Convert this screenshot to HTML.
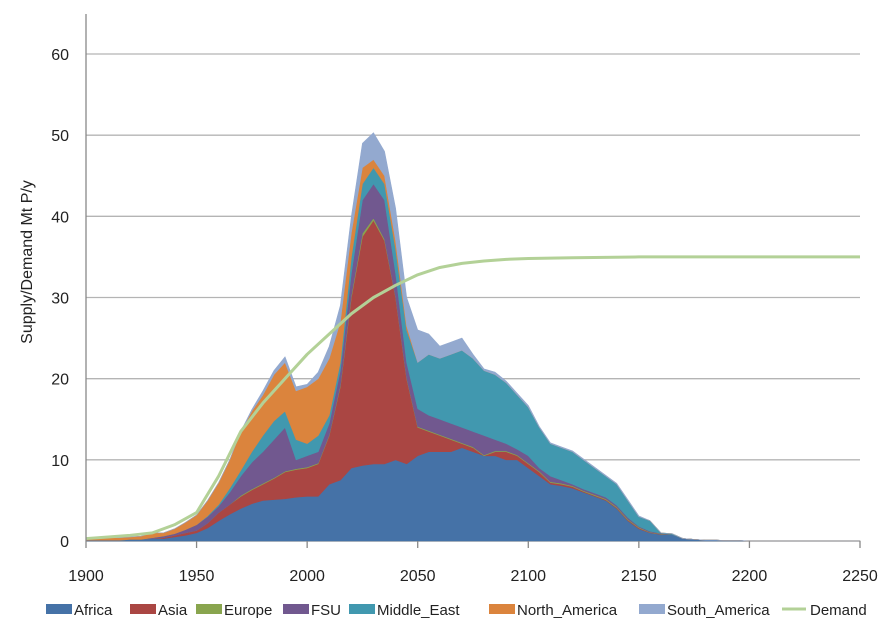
<!DOCTYPE html>
<html><head><meta charset="utf-8"><style>
body{margin:0;background:#fff;width:890px;height:630px;overflow:hidden;font-family:"Liberation Sans",sans-serif}
svg text{font-family:"Liberation Sans",sans-serif;fill:#222}
</style></head><body>
<svg id="chart" width="890" height="630" xmlns="http://www.w3.org/2000/svg">
<g id="grid"></g><g id="areas"></g><g id="lines"></g><g id="axes"></g><g id="legend"></g>
</svg>
<script>
const years=[1900,1905,1910,1915,1920,1925,1930,1935,1940,1945,1950,1955,1960,1965,1970,1975,1980,1985,1990,1995,2000,2005,2010,2015,2020,2025,2030,2035,2040,2045,2050,2055,2060,2065,2070,2075,2080,2085,2090,2095,2100,2105,2110,2115,2120,2125,2130,2135,2140,2145,2150,2155,2160,2165,2170,2175,2180,2185,2190,2195,2200,2250];
const africa=[.1,.1,.1,.1,.2,.2,.3,.3,.5,.7,1,1.6,2.5,3.3,4,4.6,5,5.1,5.2,5.4,5.5,5.5,7,7.5,9,9.3,9.5,9.5,10,9.5,10.5,11,11,11,11.5,11,10.5,10.5,10,10,9,8,7,6.8,6.5,6,5.5,5,4,2.5,1.5,1,.8,.8,.3,.2,.1,.1,.05,.05,0,0];
const asia=[0,0,0,0,0,0,0,.1,.2,.3,.3,.6,1,1.2,1.5,1.7,2,2.6,3.3,3.4,3.5,4,6,11.5,21,28.2,30,27.5,20,10.5,3.5,2.5,2,1.5,.5,.5,0,.5,1,.5,.5,.5,.2,.2,.2,.1,.1,.1,.1,.1,.1,.05,.05,0,0,0,0,0,0,0,0,0];
const europe=[0,0,0,0,0,0,0,0,0,0,0,0,0,0,.1,.1,.1,.1,.1,.1,.1,.1,.1,.2,.3,.4,.3,.2,.1,.1,.1,.1,.1,.1,.1,.1,.1,.1,.1,.1,.1,.1,.1,.1,.1,.1,.1,.1,.1,.1,.1,.05,.05,0,0,0,0,0,0,0,0,0];
const fsu=[0,0,0,0,0,0,.1,.2,.2,.4,.7,.8,.8,1.5,2.4,3.3,3.9,4.7,5.4,1.1,1.4,1.4,1.4,1.8,2.7,4.1,4.2,4.8,2.9,1.9,2.2,1.9,1.9,1.9,1.9,1.9,2.4,1.4,.9,.7,.9,.4,.7,.4,.2,.2,.2,.2,.2,.2,.1,.1,.05,0,0,0,0,0,0,0,0,0];
const middleEast=[0,0,0,0,0,0,0,0,0,0,0,.1,.2,.5,.7,1.3,2,2.3,2,2.5,1.5,2,1,1,2,2,2,2,3,4,5.7,7.5,7.5,8.5,9.5,9,8,8,7.5,6.7,6,5,4,4,4,3.6,3.1,2.6,2.6,2.1,1.2,1.3,.05,.1,0,0,0,0,0,0,0,0];
const northAmerica=[.1,.2,.3,.3,.3,.4,.6,.4,.6,.9,1.2,1.9,2.7,3.5,4.8,5,5,5.7,6,6,7,7,7,5,3,2,1,1,1,.5,0,0,0,0,0,0,0,0,0,0,0,0,0,0,0,0,0,0,0,0,0,0,0,0,0,0,0,0,0,0,0,0];
const southAmerica=[0,0,0,0,0,0,0,0,0,0,0,0,0,0,0,.2,.5,.5,.7,.5,.3,.8,1.5,2,2,3,3.3,3,4,3.5,4,2.5,1.5,1.5,1.5,.5,.2,.3,.2,.2,.2,.1,.1,.1,.1,.1,.1,.1,.1,.1,.1,0,0,0,0,0,0,0,0,0,0,0];
const demandYears=[1900,1910,1920,1930,1940,1950,1960,1970,1980,1990,2000,2010,2020,2030,2040,2050,2060,2070,2080,2090,2100,2120,2150,2250];
const demand=[0.3,0.5,0.7,1,2,3.5,8,13.5,17,20,23,25.5,28,30,31.5,32.8,33.7,34.2,34.5,34.7,34.8,34.9,35,35];
const xTicks=[1900,1950,2000,2050,2100,2150,2200,2250];
const yTicks=[0,10,20,30,40,50,60];
const seriesNames=["Africa","Asia","Europe","FSU","Middle_East","North_America","South_America"];
const seriesData=[africa,asia,europe,fsu,middleEast,northAmerica,southAmerica];
const colors=["#4572a7","#aa4643","#89a54e","#71588f","#4198af","#db843d","#93a9cf"];
const demandColor="#b3d197";
const NS="http://www.w3.org/2000/svg";
const L=86,R=860,B=541,T=54;
const x=v=>L+(v-1900)/350*(R-L);
const y=v=>B-v/60*(B-T);
function mk(tag,attrs,parent){const e=document.createElementNS(NS,tag);for(const k in attrs)e.setAttribute(k,attrs[k]);document.getElementById(parent).appendChild(e);return e;}
yTicks.forEach(t=>{
  const ln=mk('line',{x1:L,x2:R,y1:y(t),y2:y(t),stroke:t===0?'#888':'#b4b4b4','stroke-width':1.3},'grid');
  
  
  const tx=mk('text',{x:69,y:y(t)+6,'text-anchor':'end','font-size':16},'axes');tx.textContent=t;
  
  
});
const ax=mk('line',{x1:L,x2:L,y1:14,y2:B,stroke:'#888','stroke-width':1.3},'axes');


xTicks.forEach(t=>{
  const tk=mk('line',{x1:x(t),x2:x(t),y1:B,y2:B+7,stroke:'#888','stroke-width':1.3},'axes');
  
  
  const tx=mk('text',{x:x(t),y:581,'text-anchor':'middle','font-size':16},'axes');tx.textContent=t;
  
  
});
const yt=mk('text',{x:0,y:0,'text-anchor':'middle','font-size':16,transform:'translate(32,262) rotate(-90)'},'axes');
yt.textContent='Supply/Demand Mt P/y';


let base=years.map(()=>0);
seriesData.forEach((s,i)=>{
  const top=base.map((b,j)=>b+s[j]);
  let d='M'+years.map((yr,j)=>x(yr)+','+y(top[j])).join(' L');
  for(let j=years.length-1;j>=0;j--)d+=' L'+x(years[j])+','+y(base[j]);
  const p=mk('path',{d:d+'Z',fill:colors[i],stroke:colors[i],'stroke-width':0.6,'stroke-linejoin':'round'},'areas');
  
  
  base=top;
});
const dl=mk('polyline',{points:demandYears.map((yr,j)=>x(yr)+','+y(demand[j])).join(' '),fill:'none',stroke:demandColor,'stroke-width':3,'stroke-linejoin':'round'},'lines');


const legX=[46,130,196,283,349,489,639,782];
seriesNames.concat(['Demand']).forEach((n,i)=>{
  const g=mk('g',{},'legend');
  
  
  const lx=legX[i];
  if(i<7){const r=document.createElementNS(NS,'rect');r.setAttribute('x',lx);r.setAttribute('y',604);r.setAttribute('width',26);r.setAttribute('height',10);r.setAttribute('fill',colors[i]);g.appendChild(r);}
  else{const l=document.createElementNS(NS,'line');l.setAttribute('x1',lx);l.setAttribute('x2',lx+24);l.setAttribute('y1',609);l.setAttribute('y2',609);l.setAttribute('stroke',demandColor);l.setAttribute('stroke-width',3);g.appendChild(l);}
  const t=document.createElementNS(NS,'text');t.setAttribute('x',lx+28);t.setAttribute('y',615);t.setAttribute('font-size',15);t.textContent=n;g.appendChild(t);
});
</script>
</body></html>
